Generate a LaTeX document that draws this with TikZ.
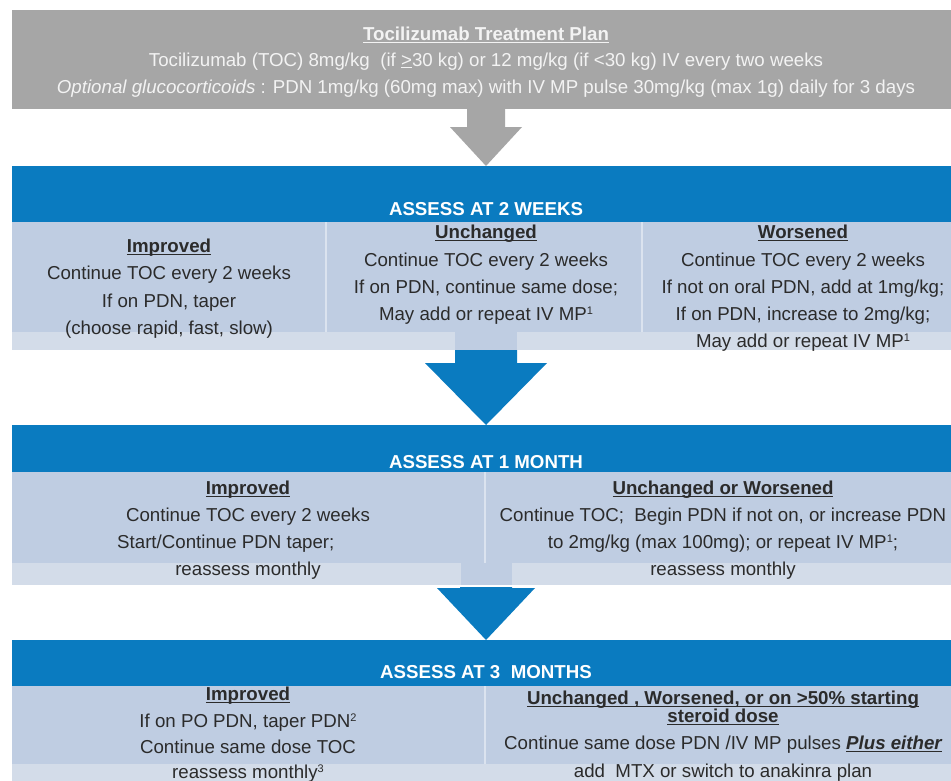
\documentclass[tikz,border=0pt]{standalone}
\usepackage{fontspec}
\setmainfont{Liberation Sans}
\usetikzlibrary{calc}

\definecolor{plangray}{HTML}{A6A6A6}
\definecolor{bandblue}{HTML}{0A7BC0}
\definecolor{cellblue}{HTML}{BFCDE2}
\definecolor{stripblue}{HTML}{D3DCE9}
\definecolor{inkc}{HTML}{2B2B2B}
\definecolor{paleink}{HTML}{F3F3F3}

% underline drawn as a rule just below the baseline
\newsavebox\ulnbox
\newcommand\uln[1]{\sbox\ulnbox{#1}\rlap{\rule[-2.8pt]{\wd\ulnbox}{1.2pt}}\usebox\ulnbox}
% small raised reference numbers
\newcommand\supr[1]{\raisebox{5.5pt}{\fontsize{11pt}{11pt}\selectfont #1}}

\tikzset{
  box/.style={anchor=north west, inner sep=0pt, outer sep=0pt, draw=none},
  txt/.style={anchor=base, inner sep=0pt, text=inkc, font=\fontsize{18.7pt}{27pt}\selectfont},
  txtbf/.style={txt, font=\fontsize{18.7pt}{27pt}\selectfont\bfseries},
  head/.style={txtbf, text=white},
  pale/.style={txt, text=paleink},
  sepline/.style={draw=white, opacity=0.45, line width=1.5pt},
}

% panel: name, colour, left, top, width, height
\newcommand\panel[6]{\node[box, fill=#2, minimum width=#5pt, minimum height=#6pt] (#1) at (#3,#4) {};}
% one line of text: style, name, x, baseline y, text
\newcommand\tline[5]{\node[#1] (#2) at (#3,#4) {#5};}
% block arrow: colour, from, to, shaft half width, head half width, head length
\newcommand\blockarrow[6]{\fill[#1] let \p1=(#2), \p2=(#3) in
  (\x2-#4,\y1) -- (\x2+#4,\y1) -- (\x2+#4,\y2+#6) -- (\x2+#5,\y2+#6) --
  (\x2,\y2) -- (\x2-#5,\y2+#6) -- (\x2-#4,\y2+#6) -- cycle;}

\begin{document}
\begin{tikzpicture}[x=1pt,y=-1pt]
\useasboundingbox (0,0) rectangle (951,780);
\fill[white] (0,0) rectangle (951,780);
\clip (0,0) rectangle (951,780);

% ---------- treatment plan ----------
\panel{plan}{plangray}{12}{10}{948}{99}
\tline{pale, font=\fontsize{18.7pt}{27pt}\selectfont\bfseries}{plantitle}{486}{40}{\uln{Tocilizumab Treatment Plan}}
\tline{pale}{planA}{486}{66}{Tocilizumab (TOC) 8mg/kg~ (if \underline{\char"3E}30 kg) or 12 mg/kg (if \char"3C 30 kg) IV every two weeks}
\tline{pale}{planB}{486}{93}{\textit{Optional glucocorticoids} : PDN 1mg/kg (60mg max) with IV MP pulse 30mg/kg (max 1g) daily for 3 days}

% ---------- assess at 2 weeks ----------
\panel{band1}{bandblue}{12}{166}{948}{56}
\panel{c1a}{cellblue}{12}{222}{314}{128}
\panel{c1b}{cellblue}{326}{222}{316}{128}
\panel{c1c}{cellblue}{642}{222}{318}{128}
\panel{s1a}{stripblue}{12}{332}{443}{18}
\panel{s1b}{stripblue}{517}{332}{443}{18}
\draw[sepline] (c1a.north east) -- (c1a.east |- s1a.north);
\draw[sepline] (c1b.north east) -- (c1b.east |- s1b.north);

\blockarrow{plangray}{plan.south}{band1.north}{19pt}{36pt}{39pt}

\tline{head}{h1}{486}{215}{ASSESS AT 2 WEEKS}

\tline{txtbf}{t1a0}{169}{252}{\uln{Improved}}
\tline{txt}{t1a1}{169}{279}{Continue TOC every 2 weeks}
\tline{txt}{t1a2}{169}{307}{If on PDN, taper}
\tline{txt}{t1a3}{169}{334}{(choose rapid, fast, slow)}

\tline{txtbf}{t1b0}{486}{238}{\uln{Unchanged}}
\tline{txt}{t1b1}{486}{266}{Continue TOC every 2 weeks}
\tline{txt}{t1b2}{486}{293}{If on PDN, continue same dose;}
\tline{txt}{t1b3}{486}{320}{May add or repeat IV MP\supr{1}}

\tline{txtbf}{t1c0}{803}{238}{\uln{Worsened}}
\tline{txt}{t1c1}{803}{266}{Continue TOC every 2 weeks}
\tline{txt}{t1c2}{803}{293}{If not on oral PDN, add at 1mg/kg;}
\tline{txt}{t1c3}{803}{320}{If on PDN, increase to 2mg/kg;}
\tline{txt}{t1c4}{803}{347}{May add or repeat IV MP\supr{1}}

% ---------- assess at 1 month ----------
\panel{band2}{bandblue}{12}{425}{948}{47}
\panel{c2a}{cellblue}{12}{472}{473}{113}
\panel{c2b}{cellblue}{485}{472}{475}{113}
\panel{s2a}{stripblue}{12}{563}{449}{22}
\panel{s2b}{stripblue}{512}{563}{448}{22}
\draw[sepline] (c2a.north east) -- (c2a.east |- s2a.north);

\blockarrow{bandblue}{s1a.south}{band2.north}{31pt}{61pt}{62pt}

\tline{head}{h2}{486}{468}{ASSESS AT 1 MONTH}

\tline{txtbf}{t2a0}{248}{494}{\uln{Improved}}
\tline{txt}{t2a1}{248}{521}{Continue TOC every 2 weeks}
\tline{txt, anchor=base west}{t2a2}{117}{548}{Start/Continue PDN taper;}
\tline{txt}{t2a3}{248}{575}{reassess monthly}

\tline{txtbf}{t2b0}{723}{494}{\uln{Unchanged or Worsened}}
\tline{txt}{t2b1}{723}{521}{Continue TOC;~ Begin PDN if not on, or increase PDN}
\tline{txt}{t2b2}{723}{548}{to 2mg/kg (max 100mg); or repeat IV MP\supr{1};}
\tline{txt}{t2b3}{723}{575}{reassess monthly}

% ---------- assess at 3 months ----------
\panel{band3}{bandblue}{12}{640}{948}{46}
\panel{c3a}{cellblue}{12}{686}{473}{110}
\panel{c3b}{cellblue}{485}{686}{475}{110}
\draw[sepline] (c3a.north east) -- (c3a.south east);
\panel{s3}{stripblue}{12}{764}{948}{30}

\blockarrow{bandblue}{$(s2a.south)+(0,2)$}{band3.north}{26pt}{49pt}{52pt}

\tline{head}{h3}{486}{678}{ASSESS AT 3~ MONTHS}

\tline{txtbf}{t3a0}{248}{700}{\uln{Improved}}
\tline{txt}{t3a1}{248}{727}{If on PO PDN, taper PDN\supr{2}}
\tline{txt}{t3a2}{248}{753}{Continue same dose TOC}
\tline{txt}{t3a3}{248}{778}{reassess monthly\supr{3}}

\tline{txtbf}{t3b0}{723}{704}{\uln{Unchanged , Worsened, or on \char"3E 50\% starting}}
\tline{txtbf}{t3b1}{723}{722}{\uln{steroid dose}}
\tline{txt}{t3b2}{723}{749}{Continue same dose PDN /IV MP pulses \uln{\bfseries\itshape Plus either}}
\tline{txt}{t3b3}{723}{777}{add~ MTX or switch to anakinra plan}
\end{tikzpicture}
\end{document}
